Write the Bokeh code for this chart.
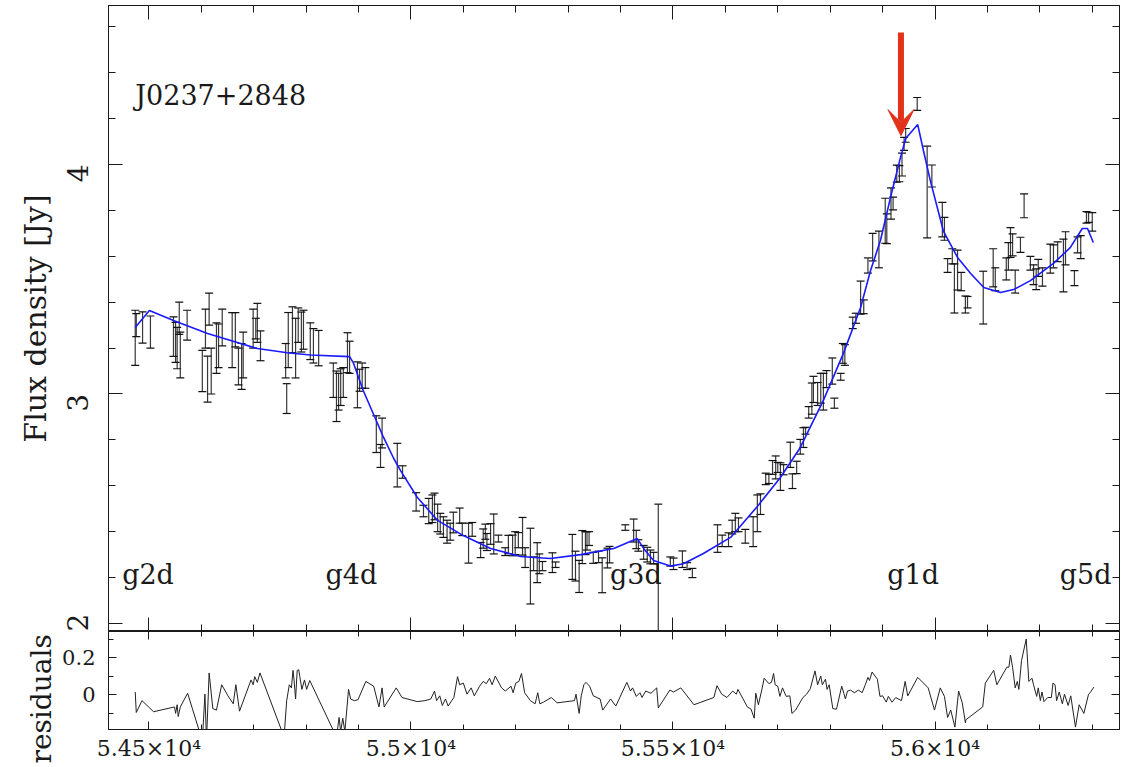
import math
from bokeh.plotting import figure
from bokeh.models import (ColumnDataSource, Whisker, TeeHead, Arrow, VeeHead, Label,
                          LinearAxis, SingleIntervalTicker, CustomJSTickFormatter, Range1d)
from bokeh.layouts import column
from bokeh.embed import file_html
from bokeh.resources import INLINE

FONT = "DejaVu Serif"

# ---------------- data ----------------
source_name = "J0237+2848"

obs_mjd = [54474, 54476, 54488, 54503, 54547, 54551, 54554, 54558, 54560, 54573,
           54602, 54608, 54612, 54615, 54619, 54629, 54633, 54640, 54659, 54665,
           54671, 54677, 54680, 54699, 54704, 54707, 54713, 54761, 54763, 54766,
           54774, 54780, 54785, 54791, 54795, 54808, 54814, 54824, 54852, 54858,
           54862, 54866, 54871, 54879, 54883, 54898, 54902, 54907, 54913, 54934,
           54942, 54945, 54974, 54984,
           55010, 55024, 55034, 55041, 55045, 55051, 55056, 55062, 55069, 55075,
           55081, 55093, 55098, 55110, 55117, 55133, 55138, 55142, 55145, 55152,
           55158, 55167, 55180, 55186, 55194, 55199, 55205, 55213, 55218, 55228,
           55234, 55241, 55245, 55251, 55270, 55276, 55308, 55314, 55321, 55327,
           55333, 55336, 55340, 55348, 55358, 55365, 55375, 55379, 55409, 55425,
           55430, 55434, 55444, 55451, 55457, 55463, 55472, 55495, 55501, 55518,
           55527, 55537,
           55585, 55594, 55606, 55613, 55619, 55625, 55638, 55653, 55661, 55667,
           55677, 55683, 55690, 55696, 55700, 55705, 55711, 55724, 55728, 55736,
           55743, 55749, 55753, 55759, 55765, 55768, 55776, 55782, 55787, 55793,
           55804, 55808, 55820, 55824, 55828, 55843, 55849, 55858, 55864, 55872,
           55881, 55893, 55905, 55908, 55916, 55920, 55927, 55932, 55937, 55941,
           55944, 55966, 55985, 55994, 56014, 56018, 56024, 56033, 56037, 56043,
           56050, 56058, 56062, 56092, 56111, 56115, 56136, 56140, 56144, 56148,
           56153, 56163, 56170, 56182, 56188, 56193, 56197, 56205, 56220, 56226,
           56234, 56245, 56249, 56266, 56272, 56278, 56289, 56293, 56300]

obs_flux = [3.245, 3.30, 3.29, 3.27, 3.25, 3.225, 3.20, 3.33, 3.17, 3.30,
            3.10, 3.285, 3.065, 3.37, 3.10, 3.20, 3.21, 3.29, 3.235, 3.28,
            3.12, 3.12, 3.17, 3.285, 3.285, 3.31, 3.21, 3.145, 2.98, 3.235,
            3.28, 3.20, 3.30, 3.27, 3.28, 3.23, 3.21, 3.20, 3.06, 2.99,
            3.01, 3.03, 3.05, 3.18, 3.16, 3.04, 3.06, 3.08, 3.07, 2.825,
            2.73, 2.83, 2.69, 2.66,
            2.53, 2.49, 2.49, 2.50, 2.51, 2.46, 2.435, 2.42, 2.40, 2.40,
            2.44, 2.47, 2.41, 2.35, 2.41, 2.32, 2.37, 2.40, 2.355, 2.39,
            2.39, 2.37, 2.313, 2.344, 2.34, 2.35, 2.363, 2.38, 2.287, 2.25,
            2.26, 2.265, 2.26, 2.25, 2.265, 2.256, 2.29, 2.25, 2.205, 2.333,
            2.35, 2.36, 2.37, 2.286, 2.29, 2.21, 2.285, 2.30, 2.418, 2.405,
            2.366, 2.34, 2.31, 2.30, 2.29, 2.285, 2.24, 2.27, 2.26, 2.28,
            2.25, 2.22,
            2.37, 2.36, 2.365, 2.42, 2.44, 2.43, 2.38, 2.40, 2.48, 2.52,
            2.63, 2.63, 2.68, 2.68, 2.68, 2.64, 2.67, 2.735, 2.62, 2.68,
            2.77, 2.81, 2.84, 2.92, 2.98, 3.02, 3.00, 3.025, 3.01, 3.065,
            3.10, 2.96, 3.075, 3.177, 3.17, 3.31, 3.33, 3.42, 3.38, 3.56,
            3.64, 3.63, 3.755, 3.72, 3.83, 3.83, 3.96, 3.96, 4.00, 4.09,
            4.127, 4.264, 3.88, 3.95, 3.76, 3.72, 3.56, 3.60, 3.46, 3.54,
            3.49, 3.39, 3.40, 3.42, 3.55, 3.50, 3.545, 3.60, 3.66, 3.65,
            3.49, 3.65, 3.82, 3.57, 3.52, 3.50, 3.55, 3.51, 3.59, 3.60,
            3.62, 3.56, 3.635, 3.505, 3.65, 3.64, 3.77, 3.77, 3.75]

obs_err = [0.12, 0.05, 0.068, 0.07, 0.086, 0.087, 0.09, 0.07, 0.10, 0.065,
           0.09, 0.085, 0.10, 0.07, 0.10, 0.11, 0.095, 0.08, 0.12, 0.075,
           0.08, 0.10, 0.10, 0.085, 0.045, 0.085, 0.065, 0.075, 0.065, 0.12,
           0.10, 0.13, 0.075, 0.087, 0.085, 0.08, 0.075, 0.077, 0.075, 0.11,
           0.08, 0.08, 0.065, 0.087, 0.07, 0.10, 0.048, 0.055, 0.045, 0.08,
           0.05, 0.065, 0.095, 0.027,
           0.04, 0.025, 0.055, 0.06, 0.058, 0.06, 0.045, 0.045, 0.05, 0.037,
           0.045, 0.033, 0.027, 0.087, 0.03, 0.033, 0.042, 0.033, 0.037, 0.045,
           0.087, 0.015, 0.017, 0.04, 0.045, 0.05, 0.033, 0.082, 0.043, 0.165,
           0.03, 0.087, 0.043, 0.02, 0.043, 0.012, 0.098, 0.065, 0.07, 0.072,
           0.05, 0.04, 0.03, 0.024, 0.025, 0.076, 0.043, 0.036, 0.012, 0.05,
           0.04, 0.025, 0.03, 0.032, 0.03, 0.025, 0.28, 0.02, 0.025, 0.036,
           0.015, 0.02,
           0.06, 0.025, 0.03, 0.03, 0.04, 0.03, 0.03, 0.065, 0.08, 0.045,
           0.025, 0.02, 0.03, 0.05, 0.022, 0.06, 0.022, 0.055, 0.032, 0.027,
           0.032, 0.043, 0.015, 0.025, 0.068, 0.057, 0.05, 0.065, 0.08, 0.037,
           0.057, 0.022, 0.015, 0.043, 0.045, 0.025, 0.022, 0.072, 0.03, 0.033,
           0.06, 0.08, 0.098, 0.065, 0.068, 0.028, 0.037, 0.035, 0.05, 0.028,
           0.03, 0.028, 0.20, 0.048, 0.075, 0.05, 0.03, 0.033, 0.107, 0.087,
           0.04, 0.037, 0.025, 0.115, 0.083, 0.05, 0.048, 0.06, 0.065, 0.048,
           0.05, 0.033, 0.052, 0.03, 0.043, 0.045, 0.037, 0.04, 0.063, 0.05,
           0.043, 0.115, 0.072, 0.033, 0.035, 0.05, 0.025, 0.022, 0.04]

model_mjd = [54474, 54501, 54547, 54612, 54707, 54764, 54808, 54883, 54890, 54909,
             54946, 54967, 54980, 55012, 55051, 55100, 55152, 55209, 55266, 55324,
             55387, 55432, 55444, 55463, 55495, 55520, 55558, 55610, 55661, 55705,
             55743, 55787, 55825, 55858, 55877, 55896, 55915, 55934, 55944, 55967,
             55978, 55991, 56016, 56043, 56068, 56093, 56125, 56150, 56182, 56226,
             56258, 56281, 56291, 56302]
model_flux = [3.29, 3.364, 3.32, 3.264, 3.198, 3.18, 3.17, 3.163, 3.137, 3.015,
              2.82, 2.72, 2.667, 2.55, 2.449, 2.383, 2.327, 2.292, 2.283, 2.30,
              2.327, 2.37, 2.327, 2.274, 2.25, 2.26, 2.305, 2.375, 2.51, 2.636,
              2.767, 2.972, 3.176, 3.377, 3.538, 3.67, 3.856, 4.03, 4.113, 4.174,
              4.06, 3.93, 3.71, 3.595, 3.525, 3.464, 3.442, 3.455, 3.494, 3.569,
              3.638, 3.721, 3.721, 3.66]

res_mjd = [54474, 54476, 54487, 54509, 54549, 54551, 54554, 54556, 54560, 54574,
           54602, 54607, 54610, 54615, 54622, 54629, 54639, 54651, 54661, 54666,
           54673, 54695, 54699, 54702, 54707, 54712, 54758, 54763, 54768, 54772,
           54775, 54777, 54780, 54783, 54786, 54788, 54792, 54797, 54801, 54807,
           54858, 54863, 54866, 54870, 54874, 54881, 54885, 54892, 54899, 54914,
           54929, 54939, 54945, 54949, 54972, 54983, 55012, 55027, 55038, 55045,
           55049, 55055, 55060, 55066, 55071, 55082, 55089, 55093, 55100, 55107,
           55115, 55121, 55131, 55138, 55144, 55150, 55155, 55161, 55173, 55180,
           55191, 55195, 55200, 55206, 55211, 55217, 55228, 55237, 55242, 55246,
           55253, 55268, 55279, 55312, 55315, 55321, 55325, 55330, 55334, 55341,
           55348, 55361, 55366, 55381, 55391, 55412, 55419, 55423, 55430, 55437,
           55441, 55448, 55458, 55469, 55472, 55494, 55501, 55515, 55540, 55578,
           55584, 55593, 55603, 55614, 55621, 55624, 55642, 55649, 55655, 55658,
           55663, 55669, 55674, 55677, 55683, 55688, 55692, 55695, 55700, 55704,
           55709, 55716, 55723, 55727, 55734, 55748, 55755, 55762, 55771, 55776,
           55782, 55785, 55791, 55794, 55798, 55805, 55812, 55822, 55826, 55829,
           55833, 55839, 55846, 55854, 55861, 55867, 55872, 55875, 55880, 55890,
           55895, 55900, 55907, 55911, 55918, 55925, 55936, 55943, 55948, 55967,
           55987, 55999, 56010, 56018, 56024, 56030, 56038, 56045, 56052, 56058,
           56059, 56091, 56096, 56112, 56118, 56137, 56141, 56144, 56148, 56153,
           56157, 56160, 56165, 56174, 56179, 56185, 56188, 56194, 56197, 56201,
           56204, 56208, 56215, 56222, 56225, 56229, 56232, 56237, 56243, 56247,
           56254, 56259, 56268, 56275, 56284, 56293, 56296, 56303]
res_val = [0.014, -0.097, -0.033, -0.093, -0.067, -0.102, -0.055, -0.119, -0.067, 0.007,
           -0.25, 0.002, -0.25, 0.117, -0.076, -0.084, 0.053, -0.007, -0.05, 0.053,
           -0.09, 0.079, 0.053, 0.097, 0.066, 0.117, -0.23, -0.033, 0.053, 0.036,
           0.131, 0.079, -0.024, 0.131, 0.134, 0.097, 0.028, 0.079, 0.028, 0.076,
           -0.23, -0.124, -0.2, -0.128, -0.2, 0.028, -0.024, -0.033, -0.028, 0.071,
           0.045, -0.067, 0.036, -0.067, 0.036, -0.016, -0.038, -0.033, -0.024, 0.019,
           -0.033, -0.007, -0.059, -0.024, -0.062, -0.016, 0.097, 0.053, 0.062, 0.002,
           0.036, -0.007, 0.045, 0.071, 0.059, 0.088, 0.053, 0.10, 0.036, 0.019,
           0.045, 0.01, 0.062, 0.071, 0.114, 0.01, -0.033, -0.05, 0.01, -0.05,
           -0.041, -0.016, -0.045, -0.033, 0.002, -0.102, -0.007, 0.053, 0.066, 0.045,
           -0.007, -0.024, -0.084, -0.024, -0.062, 0.066, 0.019, 0.036, -0.01, 0.01,
           -0.016, 0.019, 0.007, 0.036, -0.072, 0.024, 0.014, 0.036, -0.055, -0.016,
           0.048, 0.002, -0.016, 0.019, 0.002, 0.028, -0.067, -0.079, -0.128, 0.007,
           -0.055, 0.019, 0.088, 0.079, 0.059, 0.066, 0.114, 0.053, 0.045, -0.01,
           0.036, -0.01, -0.007, -0.102, -0.084, -0.016, 0.002, 0.031, 0.128, 0.053,
           0.10, 0.053, 0.083, 0.028, 0.053, -0.076, -0.079, 0.045, 0.007, -0.024,
           0.019, 0.024, 0.01, 0.024, 0.01, 0.053, 0.093, 0.076, 0.122, 0.083,
           -0.01, -0.007, -0.041, -0.01, -0.041, -0.016, -0.033, 0.071, -0.007, 0.093,
           0.036, -0.084, 0.036, -0.01, -0.124, -0.084, -0.176, 0.019, -0.045, -0.153,
           -0.136, -0.067, 0.062, 0.131, 0.053, 0.148, 0.148, 0.214, 0.148, 0.036,
           0.071, 0.028, 0.183, 0.30, 0.071, 0.088, 0.053, -0.01, 0.036, -0.033,
           0.014, -0.038, -0.016, -0.016, 0.062, 0.053, -0.033, 0.014, -0.05, 0.002,
           -0.059, -0.007, -0.176, -0.055, -0.102, 0.002, 0.01, 0.04]

component_names = ["g2d", "g4d", "g3d", "g1d", "g5d"]
component_mjd = [54449, 54837, 55380, 55909, 56238]

flare_mjd = 55935
flare_arrow_top = 4.575
flare_arrow_tip = 4.126

# ---------------- styling ----------------
INK = "#1a1a1a"
X0, X1 = 54423, 56352


def style_axis(ax, tin, tin_minor, labels=True, size="22px", standoff=8):
    ax.axis_line_color = INK
    ax.major_tick_line_color = INK
    ax.minor_tick_line_color = INK
    ax.major_tick_in = tin
    ax.major_tick_out = 0
    ax.minor_tick_in = tin_minor
    ax.minor_tick_out = 0
    ax.major_label_text_font = FONT
    ax.major_label_text_color = INK
    ax.axis_label_text_font = FONT
    ax.axis_label_text_font_style = "normal"
    ax.axis_label_text_color = INK
    if labels:
        ax.major_label_text_font_size = size
        ax.major_label_standoff = standoff
    else:
        ax.major_label_text_font_size = "1px"
        ax.major_label_text_color = None
        ax.major_label_standoff = 0
        ax.axis_label = None
    return ax


# ---------------- main panel ----------------
p1 = figure(width=1131, height=631, x_range=Range1d(X0, X1), y_range=Range1d(1.965, 4.693),
            x_axis_location=None, y_axis_location=None,
            output_backend="svg", toolbar_location=None,
            min_border_left=108, min_border_right=12, min_border_top=5, min_border_bottom=0)
p1.grid.visible = False
p1.outline_line_color = INK
p1.background_fill_color = "white"
p1.border_fill_color = "white"

xt = lambda: SingleIntervalTicker(interval=500, num_minor_ticks=5)
yt = lambda: SingleIntervalTicker(interval=1, num_minor_ticks=5)

ax_l = style_axis(LinearAxis(ticker=yt(), axis_label="Flux density [Jy]"), 14, 7, True, "28px", 31)
ax_l.major_label_orientation = math.pi / 2
ax_l.axis_label_text_font_size = "30px"
ax_l.axis_label_standoff = 1
p1.add_layout(ax_l, "left")
p1.add_layout(style_axis(LinearAxis(ticker=yt()), 14, 7, False), "right")
p1.add_layout(style_axis(LinearAxis(ticker=xt()), 14, 7, False), "above")
p1.add_layout(style_axis(LinearAxis(ticker=xt()), 14, 7, False), "below")

obs = ColumnDataSource(dict(
    x=obs_mjd, y=obs_flux,
    upper=[f + e for f, e in zip(obs_flux, obs_err)],
    lower=[f - e for f, e in zip(obs_flux, obs_err)],
))
wh = Whisker(source=obs, base="x", upper="upper", lower="lower", dimension="height",
             line_color="#222222", line_width=1.2, line_alpha=0.9,
             upper_head=TeeHead(size=8, line_color="#111111", line_width=1.2),
             lower_head=TeeHead(size=8, line_color="#111111", line_width=1.2))
p1.add_layout(wh)

p1.line(model_mjd, model_flux, line_color="#1a1aff", line_width=1.6)

p1.add_layout(Arrow(end=VeeHead(size=26, fill_color="#e2321a", line_color="#e2321a"),
                    x_start=flare_mjd, y_start=flare_arrow_top,
                    x_end=flare_mjd, y_end=flare_arrow_tip,
                    line_color="#e2321a", line_width=6))

p1.add_layout(Label(x=54474, y=4.30, text=source_name, text_font=FONT,
                    text_font_size="27px", text_color=INK, text_baseline="alphabetic"))
for name, m in zip(component_names, component_mjd):
    p1.add_layout(Label(x=m, y=2.214, text=name, text_font=FONT, text_font_size="27px",
                        text_color=INK, text_baseline="alphabetic"))

# ---------------- residuals panel ----------------
p2 = figure(width=1131, height=136, x_range=p1.x_range, y_range=Range1d(-0.189, 0.341),
            x_axis_location=None, y_axis_location=None,
            title="residuals", title_location="left",
            output_backend="svg", toolbar_location=None,
            min_border_left=108, min_border_right=12, min_border_top=0, min_border_bottom=38)
p2.grid.visible = False
p2.outline_line_color = INK
# the panel's y title sits in the left border, shifted down so it stays inside the canvas
p2.title.text_font = FONT
p2.title.text_font_size = "28px"
p2.title.text_font_style = "normal"
p2.title.text_color = INK
p2.title.align = "left"
p2.title.offset = -34
p2.title.standoff = 4

ryt = lambda: SingleIntervalTicker(interval=0.2, num_minor_ticks=2)
ax_rl = style_axis(LinearAxis(ticker=ryt()), 8, 5, True, "21px", 13)
ax_rl.formatter = CustomJSTickFormatter(code="""
    const v = Math.round(tick * 10) / 10;
    return v === 0 ? '0' : v.toFixed(1);
""")
p2.add_layout(ax_rl, "left")
p2.add_layout(style_axis(LinearAxis(ticker=ryt()), 8, 5, False), "right")
p2.add_layout(style_axis(LinearAxis(ticker=xt()), 8, 5, False), "above")
ax_b = style_axis(LinearAxis(ticker=xt()), 8, 5, True, "22px", 6)
ax_b.formatter = CustomJSTickFormatter(code="return (tick / 1e4).toString() + '\u00d710\u2074';")
p2.add_layout(ax_b, "below")

p2.line(res_mjd, res_val, line_color="#222222", line_width=1)

layout = column(p1, p2, spacing=0)
open("out.html", "w").write(file_html(layout, INLINE))
